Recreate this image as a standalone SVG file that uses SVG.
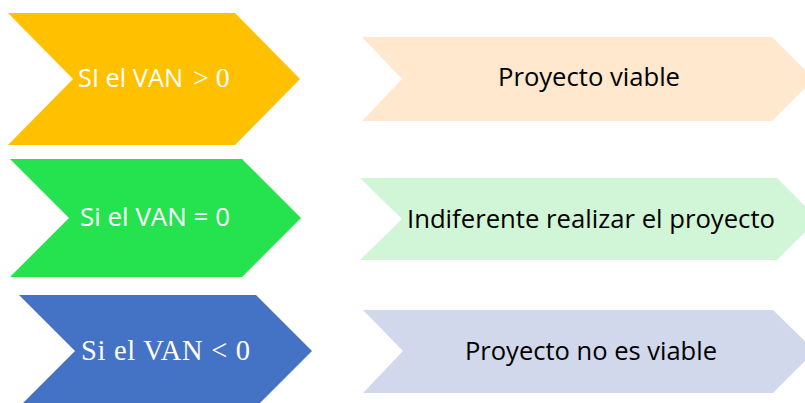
<svg xmlns="http://www.w3.org/2000/svg" width="805" height="403" viewBox="0 0 805 403">
<style>
.sans{font-family:"Open Sans","Noto Sans","Liberation Sans",sans-serif;font-size:25.5px}
.serif{font-family:"Liberation Serif","DejaVu Serif",serif}
.w{fill:#FFFFFF}
.k{fill:#000000}
</style>
<rect width="805" height="403" fill="#FFFFFF"/>
<g id="cond-pos">
<polygon points="8,13 235,13 300,79 235,145 8,145 73,79" fill="#FFC000"/>
<text class="sans w" x="78" y="87" textLength="105" lengthAdjust="spacingAndGlyphs">SI el VAN</text>
<text class="serif w" x="193" y="87" font-size="28">&gt; 0</text>
</g>
<g id="cond-zero">
<polygon points="10,159 242,159 301,218 242,277 10,277 69,218" fill="#25E24F"/>
<text class="sans w" x="80" y="226" textLength="150" lengthAdjust="spacingAndGlyphs">Si el VAN = 0</text>
</g>
<g id="cond-neg">
<polygon points="19,295 256,295 312,351 256,407 19,407 75,351" fill="#4472C4"/>
<text class="serif w" x="81" y="360" font-size="28.5" textLength="169" lengthAdjust="spacing">Si el VAN &lt; 0</text>
</g>
<g id="res-pos">
<polygon points="362,37 772,37 814,79 772,121 362,121 402,79" fill="#FFE8CD"/>
<text class="sans k" x="498" y="86" textLength="182" lengthAdjust="spacingAndGlyphs">Proyecto viable</text>
</g>
<g id="res-zero">
<polygon points="360,178 777,178 818,219 777,260 360,260 402,219" fill="#D0F5D7"/>
<text class="sans k" x="407" y="228" textLength="368" lengthAdjust="spacingAndGlyphs">Indiferente realizar el proyecto</text>
</g>
<g id="res-neg">
<polygon points="363,310 773,310 815,351 773,393 363,393 403,351" fill="#D1D8EB"/>
<text class="sans k" x="465" y="360" textLength="252" lengthAdjust="spacingAndGlyphs">Proyecto no es viable</text>
</g>
<g id="connectors"/>
</svg>
